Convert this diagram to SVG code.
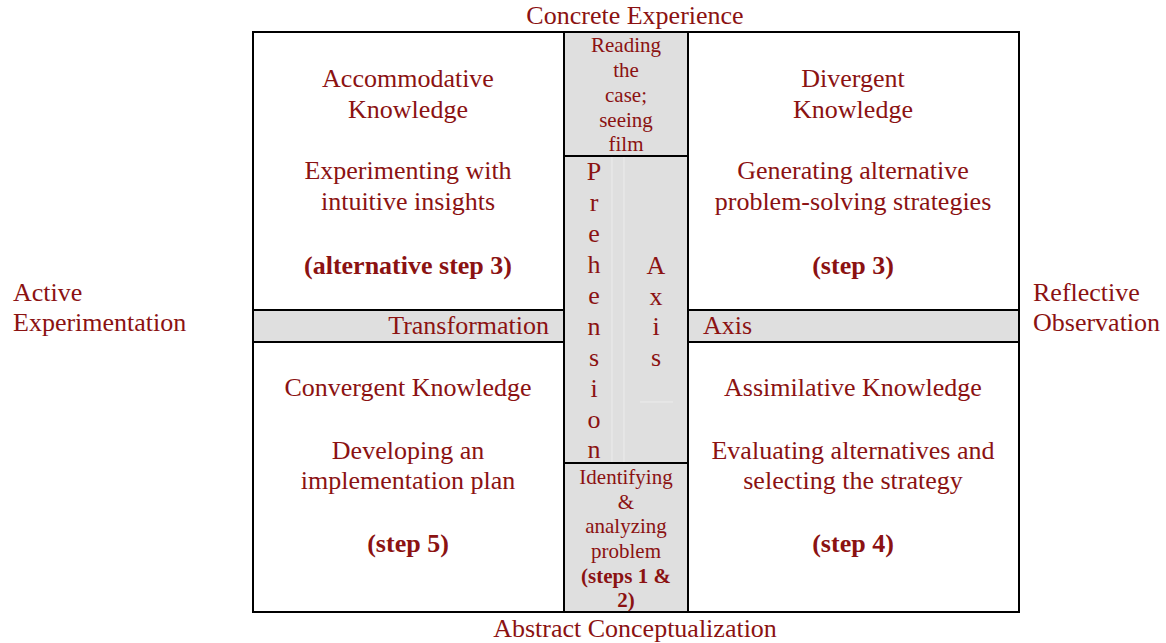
<svg xmlns="http://www.w3.org/2000/svg" width="1166" height="643" viewBox="0 0 1166 643">
<style>
.t{font-family:"Liberation Serif","Times New Roman",serif;font-size:26px;fill:#8b1212;text-anchor:middle}
.s{font-size:21px}
.b{font-weight:bold}
.l{text-anchor:start}
.r{text-anchor:end}
.ln{stroke:#000;stroke-width:2;fill:none}
.g{fill:#dfdfdf}
.f{stroke:#ececec;stroke-width:1}
</style>
<rect width="1166" height="643" fill="#fff"/>
<g id="backgrounds">
<rect class="g" x="564" y="32" width="124" height="580"/>
<rect class="g" x="253" y="310" width="766" height="32"/>
<line class="f" x1="612" y1="157" x2="612" y2="462"/>
<line class="f" x1="624" y1="157" x2="624" y2="462"/>
<line class="f" x1="640" y1="402" x2="673" y2="402"/>
</g>
<g id="lines">
<rect class="ln" x="253" y="32" width="766" height="580"/>
<line class="ln" x1="564" y1="32" x2="564" y2="612"/>
<line class="ln" x1="688" y1="32" x2="688" y2="612"/>
<line class="ln" x1="253" y1="310" x2="564" y2="310"/>
<line class="ln" x1="253" y1="342" x2="564" y2="342"/>
<line class="ln" x1="688" y1="310" x2="1019" y2="310"/>
<line class="ln" x1="688" y1="342" x2="1019" y2="342"/>
<line class="ln" x1="564" y1="156" x2="688" y2="156"/>
<line class="ln" x1="564" y1="463" x2="688" y2="463"/>
</g>
<g id="axis-labels">
<text class="t" x="635" y="24">Concrete Experience</text>
<text class="t" x="635" y="637">Abstract Conceptualization</text>
<text class="t l" x="13" y="301">Active</text>
<text class="t l" x="13" y="331">Experimentation</text>
<text class="t l" x="1033" y="301">Reflective</text>
<text class="t l" x="1033" y="331">Observation</text>
</g>
<g id="accommodative">
<text class="t" x="408" y="87">Accommodative</text>
<text class="t" x="408" y="118">Knowledge</text>
<text class="t" x="408" y="179">Experimenting with</text>
<text class="t" x="408" y="210">intuitive insights</text>
<text class="t b" x="408" y="274">(alternative step 3)</text>
</g>
<g id="divergent">
<text class="t" x="853" y="87">Divergent</text>
<text class="t" x="853" y="118">Knowledge</text>
<text class="t" x="853" y="179">Generating alternative</text>
<text class="t" x="853" y="210">problem-solving strategies</text>
<text class="t b" x="853" y="274">(step 3)</text>
</g>
<g id="convergent">
<text class="t" x="408" y="396">Convergent Knowledge</text>
<text class="t" x="408" y="459">Developing an</text>
<text class="t" x="408" y="489">implementation plan</text>
<text class="t b" x="408" y="552">(step 5)</text>
</g>
<g id="assimilative">
<text class="t" x="853" y="396">Assimilative Knowledge</text>
<text class="t" x="853" y="459">Evaluating alternatives and</text>
<text class="t" x="853" y="489">selecting the strategy</text>
<text class="t b" x="853" y="552">(step 4)</text>
</g>
<g id="transformation-axis">
<text class="t r" x="549" y="334">Transformation</text>
<text class="t l" x="703" y="334">Axis</text>
</g>
<g id="reading">
<text class="t s" x="626" y="52">Reading</text>
<text class="t s" x="626" y="77">the</text>
<text class="t s" x="626" y="102">case;</text>
<text class="t s" x="626" y="127">seeing</text>
<text class="t s" x="626" y="151">film</text>
</g>
<g id="prehension-axis">
<text class="t" x="594" y="180">P</text>
<text class="t" x="594" y="211">r</text>
<text class="t" x="594" y="242">e</text>
<text class="t" x="594" y="273">h</text>
<text class="t" x="594" y="304">e</text>
<text class="t" x="594" y="335">n</text>
<text class="t" x="594" y="366">s</text>
<text class="t" x="594" y="397">i</text>
<text class="t" x="594" y="428">o</text>
<text class="t" x="594" y="458">n</text>
<text class="t" x="656" y="274">A</text>
<text class="t" x="656" y="305">x</text>
<text class="t" x="656" y="335">i</text>
<text class="t" x="656" y="366">s</text>
</g>
<g id="identifying">
<text class="t s" x="626" y="484">Identifying</text>
<text class="t s" x="626" y="509">&amp;</text>
<text class="t s" x="626" y="533">analyzing</text>
<text class="t s" x="626" y="558">problem</text>
<text class="t s b" x="626" y="583">(steps 1 &amp;</text>
<text class="t s b" x="626" y="607">2)</text>
</g>
</svg>
